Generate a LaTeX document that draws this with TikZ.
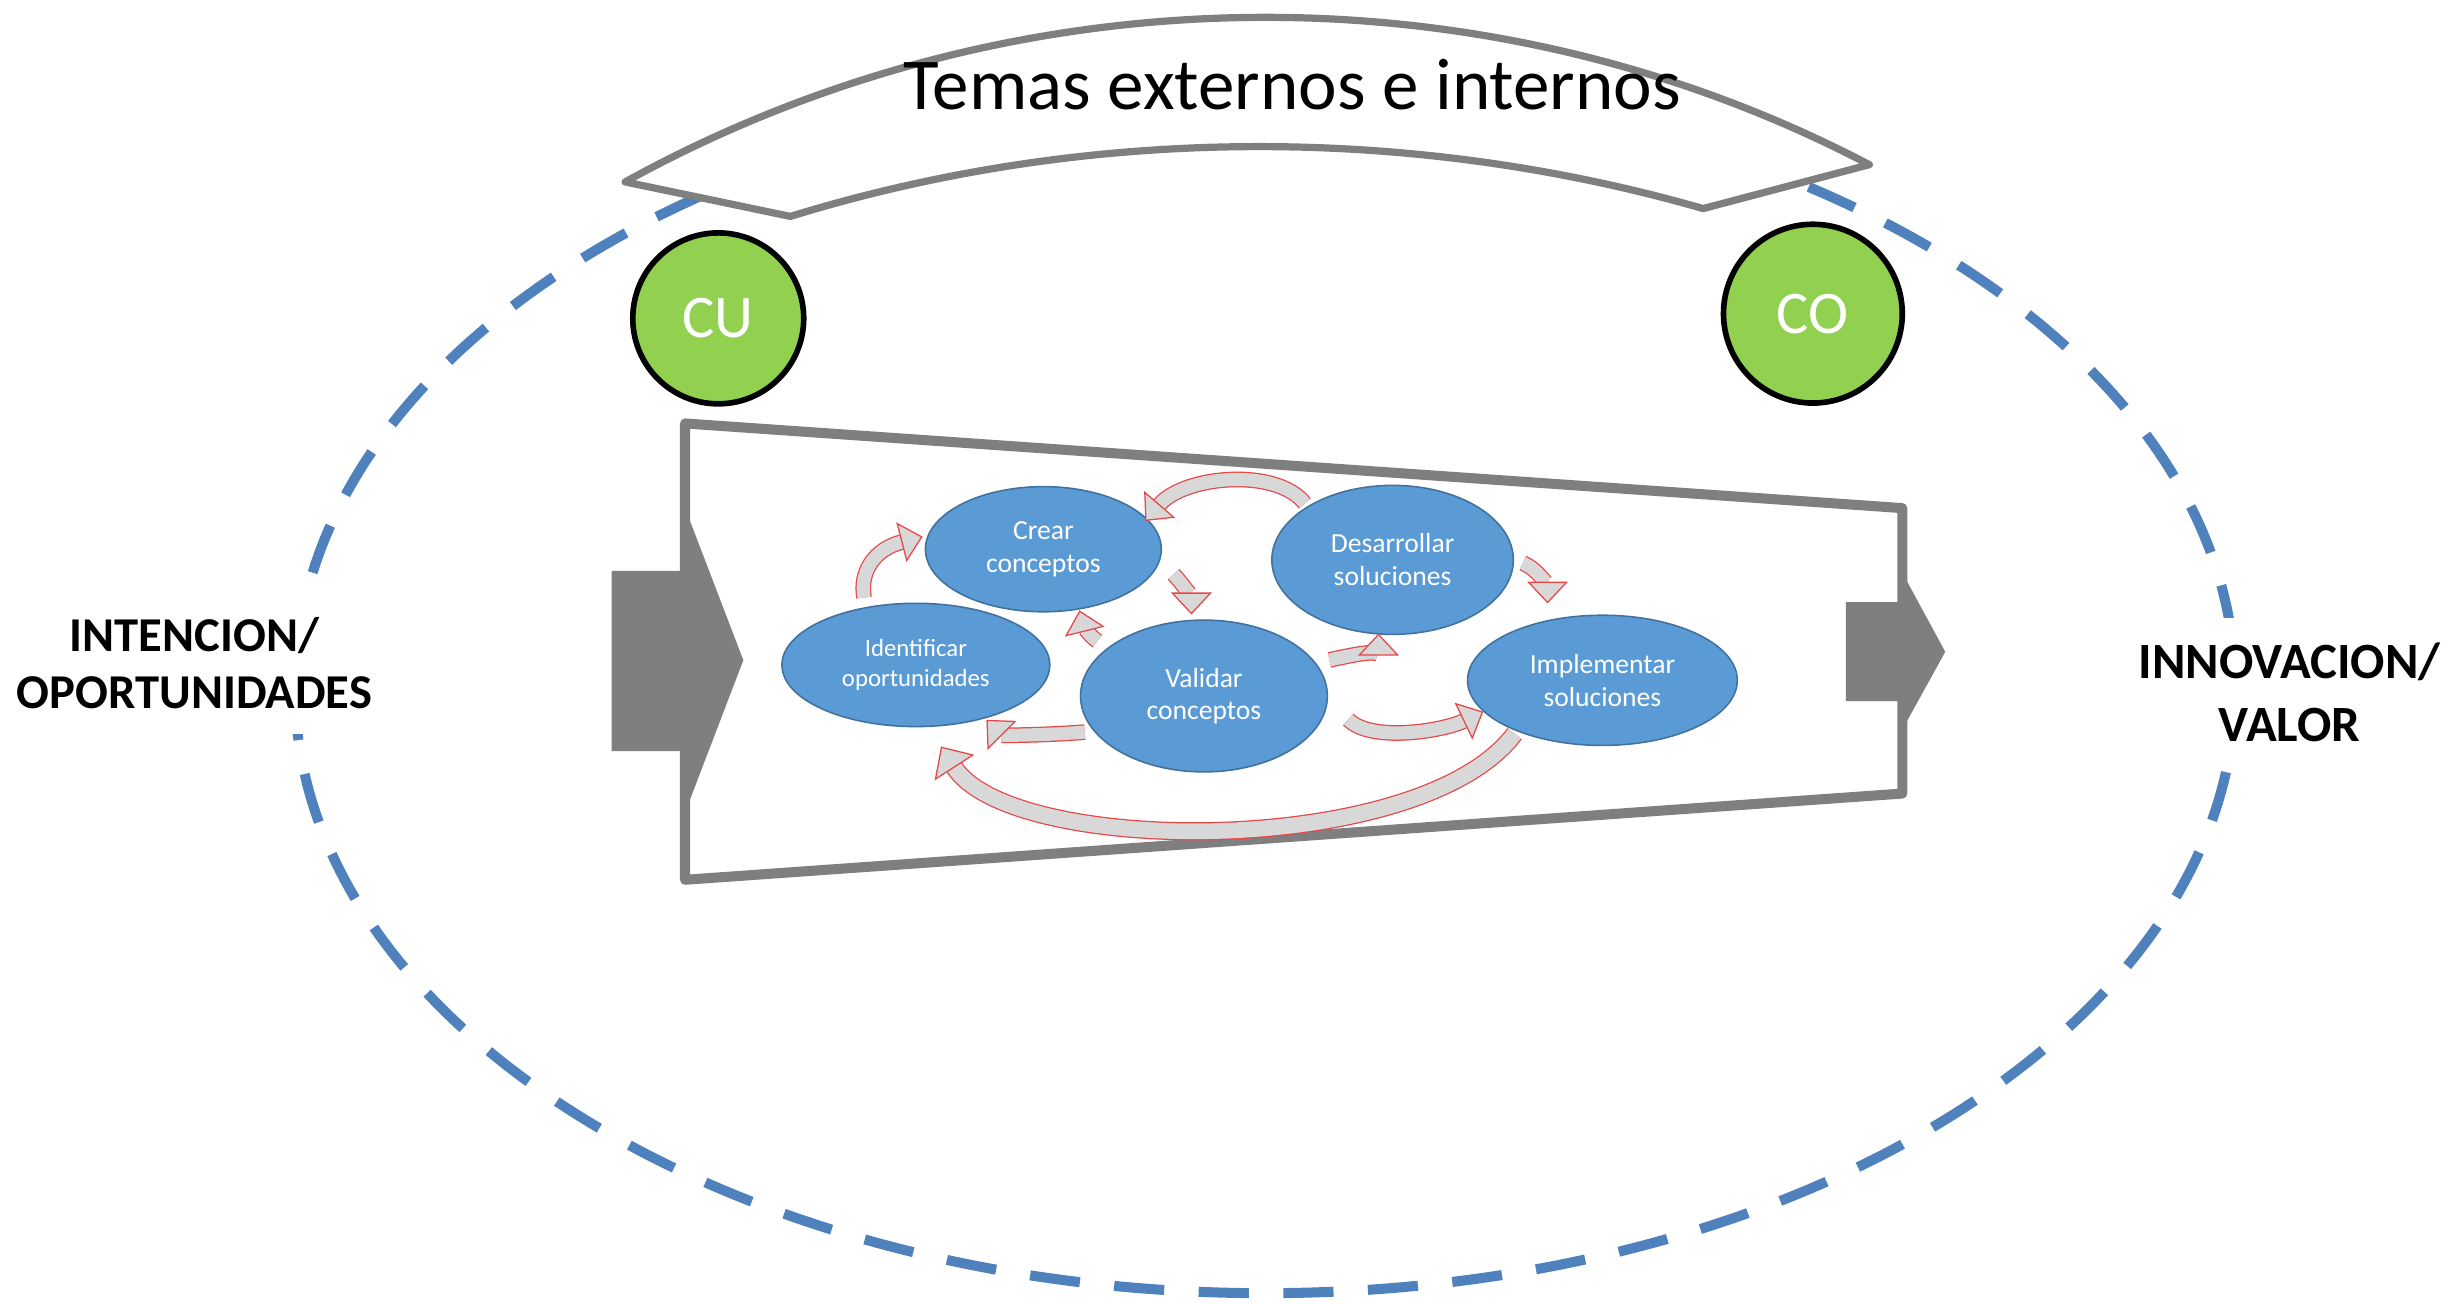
\documentclass[tikz,border=0pt]{standalone}
\usepackage{fontspec}
\setmainfont{Carlito}
\usetikzlibrary{arrows.meta,shapes.geometric,calc}
\definecolor{shapegray}{RGB}{127,127,127}
\definecolor{dashblue}{RGB}{79,129,189}
\definecolor{cgreen}{RGB}{146,208,80}
\definecolor{efill}{RGB}{91,155,213}
\definecolor{eline}{RGB}{65,113,156}
\definecolor{agray}{RGB}{216,216,216}
\definecolor{ared}{RGB}{232,70,70}
\begin{document}
\begin{tikzpicture}[x=0.5pt,y=-0.5pt,
  proc/.style={ellipse,draw=eline,line width=0.5pt,fill=efill,text=white,inner sep=0pt,align=center,font=\fontsize{8.8}{10.6}\selectfont},
  cnode/.style={circle,draw=black,line width=1.8pt,fill=cgreen,text=white,inner sep=0pt,font=\fontsize{19.3}{22}\selectfont},
  sidelabel/.style={fill=white,align=center,inner xsep=2pt,inner ysep=8pt},
  cyclearrow/.style={draw=ared,line width=0.4pt,double=agray,double distance=4.2pt,-{Triangle[width=13pt,length=7pt,fill=agray,color=ared,line width=0.4pt]}},
  bigarrow/.style={draw=ared,line width=0.4pt,double=agray,double distance=5pt,-{Triangle[width=15pt,length=8pt,fill=agray,color=ared,line width=0.4pt]}},
]
\useasboundingbox (0,0) rectangle (1568,831);
% outer dashed ellipse
\draw[dashblue,line width=3.2pt,dash pattern=on 16pt off 11pt] (806.7,438.8) ellipse [x radius=618.6,y radius=385.8];
% side labels
\node[sidelabel,font=\bfseries\fontsize{15.5}{18.25}\selectfont] (intencion) at (124,423) {INTENCION/\\OPORTUNIDADES};
\node[sidelabel,font=\bfseries\fontsize{16.2}{20.2}\selectfont] (innovacion) at (1460,441.6) {INNOVACION/\\VALOR};
% banner
\draw[shapegray,line width=2.3pt,fill=white,line join=round]
  (398.6,116) .. controls (645,-20) and (946,-24) .. (1192,105) -- (1086,133)
  .. controls (898,79) and (692,80) .. (504,138) -- cycle;
\node[font=\fontsize{23.3}{28}\selectfont,anchor=base] (temas) at (824,70) {Temas externos e internos};
% circles
\node[cnode,minimum size=54.5pt] (cu) at (458,203) {CU};
\node[cnode,minimum size=57pt] (co) at (1156,200) {CO};
% funnel
\draw[shapegray,line width=3.2pt,fill=white,line join=round] (436.8,270) -- (1213,324) -- (1213,506) -- (436.8,561) -- cycle;
\fill[shapegray] (390,364) -- (438,364) -- (438,327) -- (474,421) -- (438,515) -- (438,479) -- (390,479) -- cycle;
\fill[shapegray] (1177,384) -- (1214,384) -- (1214,367) -- (1240.4,415.6) -- (1214,463.4) -- (1214,447) -- (1177,447) -- cycle;
% process nodes
\node[proc,minimum width=75.2pt,minimum height=39.9pt] (crear) at (665.3,350.2) {Crear\\conceptos};
\node[proc,minimum width=77pt,minimum height=47.5pt] (desar) at (888,357) {Desarrollar\\soluciones};
\node[proc,minimum width=85.4pt,minimum height=39.3pt,font=\fontsize{7.9}{9.5}\selectfont] (ident) at (584,424) {Identificar\\oportunidades};
\node[proc,minimum width=78.7pt,minimum height=48.4pt,font=\fontsize{8.8}{10.1}\selectfont] (valid) at (767.7,443.8) {Validar\\conceptos};
\node[proc,minimum width=86pt,minimum height=41.5pt] (impl) at (1021.8,433.8) {Implementar\\soluciones};
% cycle arrows
\draw[cyclearrow] ($(ident)+(-33,-43)$) .. controls +(-3,-16) and +(-31,8) .. ($(crear)+(-77,-8)$);
\draw[cyclearrow] ($(crear)+(83,16)$) .. controls +(6,6) and +(0,-10) .. ($(valid)+(-8,-52)$);
\draw[cyclearrow] ($(valid)+(-68,-35)$) .. controls +(-6,-4) and +(2,8) .. ($(crear)+(23,39)$);
\draw[cyclearrow] ($(desar)+(-56,-36)$) .. controls +(-18,-23) and +(25,-29) .. ($(crear)+(65,-18)$);
\draw[cyclearrow] ($(valid)+(80,-23)$) .. controls +(14,-3) and +(0,10) .. ($(desar)+(-9,47)$);
\draw[cyclearrow] ($(desar)+(83,2)$) .. controls +(10,4) and +(0,-10) .. ($(impl)+(-35,-49)$);
\draw[cyclearrow] ($(valid)+(92,15)$) .. controls +(15,15) and +(-25,12) .. ($(impl)+(-76,20)$);
\draw[cyclearrow] ($(valid)+(-76,23)$) .. controls +(-25,2) and +(10,10) .. ($(ident)+(45,35)$);
\draw[bigarrow] ($(impl)+(-56,34)$) .. controls +(-60,80) and +(45,70) .. ($(ident)+(16,52)$);
\end{tikzpicture}
\end{document}
